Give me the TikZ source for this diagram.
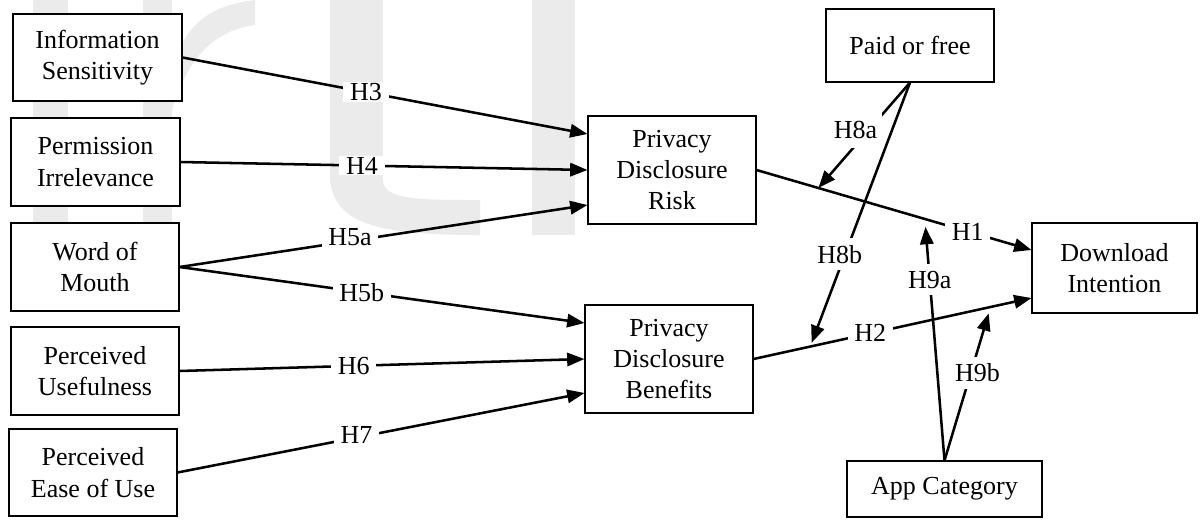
\documentclass[tikz,border=0pt]{standalone}
\usepackage{fontspec}
\setmainfont{Liberation Serif}
\usetikzlibrary{arrows.meta,calc}
\begin{document}
\begin{tikzpicture}[x=0.75pt,y=-0.75pt,
  txt/.style={font=\fontsize{19.5}{23.5}\selectfont},
  box/.style={draw, fill=white, line width=0.8pt, inner sep=0pt, align=center, txt},
  conn/.style={line width=1.9pt, -{Triangle[length=13pt,width=10pt]}},
  lab/.style={fill=white, inner xsep=5pt, inner ysep=1pt, txt},
  vlab/.style={fill=white, inner xsep=2pt, inner ysep=5pt, txt},
  wm/.style={fill=black!8}]
\useasboundingbox (0,0) rectangle (1200,519);
% faint watermark
\fill[wm] (33,0) rectangle (68,235);
\fill[wm] (143,0) rectangle (172,235);
\fill[wm] (172,70) .. controls (185,20) and (215,5) .. (255,0) -- (255,25) .. controls (220,30) and (190,50) .. (172,110) -- cycle;
\fill[wm] (330,0) rectangle (383,180);
\fill[wm] (330,180) .. controls (335,225) and (380,235) .. (480,235) -- (480,200) .. controls (420,200) and (383,200) .. (383,180) -- cycle;
\fill[wm] (532,0) rectangle (575,235);
% boxes
\node[box, minimum width=169*0.75pt, minimum height=87*0.75pt] (info) at (97.5,57.5) {Information\\Sensitivity};
\node[box, minimum width=169*0.75pt, minimum height=88*0.75pt] (perm) at (95.5,162) {Permission\\Irrelevance};
\node[box, minimum width=168*0.75pt, minimum height=88*0.75pt] (wom) at (95,267) {Word of\\Mouth};
\node[box, minimum width=168*0.75pt, minimum height=88*0.75pt] (pu) at (95,371) {Perceived\\Usefulness};
\node[box, minimum width=168*0.75pt, minimum height=87*0.75pt] (peou) at (93,472.5) {Perceived\\Ease of Use};
\node[box, minimum width=168*0.75pt, minimum height=108*0.75pt] (risk) at (672,170) {Privacy\\Disclosure\\Risk};
\node[box, minimum width=168*0.75pt, minimum height=108*0.75pt] (ben) at (669,359) {Privacy\\Disclosure\\Benefits};
\node[box, minimum width=168*0.75pt, minimum height=73*0.75pt] (paid) at (910,45.5) {Paid or free};
\node[box, minimum width=165*0.75pt, minimum height=90*0.75pt] (dl) at (1114.5,268) {Download\\Intention};
\node[box, minimum width=195*0.75pt, minimum height=56*0.75pt] (app) at (944.5,489) {App Category};
% end points
\coordinate (r1) at ($(risk.west)+(0,-36)$);
\coordinate (r3) at ($(risk.west)+(0,35)$);
\coordinate (b1) at ($(ben.west)+(0,-36)$);
\coordinate (b3) at ($(ben.west)+(0,34)$);
\coordinate (d1) at ($(dl.west)+(0,-18)$);
\coordinate (d2) at ($(dl.west)+(0,30)$);
\path (risk.east) -- (d1) coordinate[pos=0.225] (m8a) coordinate[pos=0.612] (m9a);
\path (ben.east) -- (d2) coordinate[pos=0.204] (m8b) coordinate[pos=0.853] (m9b);
% connectors
\draw[conn] (info.east) -- (r1) node[lab, pos=0.453] {H3};
\draw[conn] (perm.east) -- (risk.west) node[lab, pos=0.446] {H4};
\draw[conn] (wom.east) -- (r3) node[lab, pos=0.418, yshift=3pt] {H5a};
\draw[conn] (wom.east) -- (b1) node[lab, pos=0.45] {H5b};
\draw[conn] (pu.east) -- (ben.west) node[lab, pos=0.43] {H6};
\draw[conn] (peou.east) -- (b3) node[lab, pos=0.44, yshift=2pt] {H7};
\draw[conn] (risk.east) -- (d1) node[lab, pos=0.768] {H1};
\draw[conn] (ben.east) -- (d2) node[lab, pos=0.42] {H2};
\draw[conn] (paid.south) -- (m8a) node[vlab, pos=0.45, xshift=-10pt, inner xsep=4pt, inner ysep=7pt] {H8a};
\draw[conn, shorten >=3pt] (paid.south) -- (m8b) node[vlab, pos=0.65, xshift=-4pt] {H8b};
\draw[conn, shorten >=6pt] (app.north) -- (m9a) node[vlab, pos=0.748] {H9a};
\draw[conn, shorten >=5pt] (app.north) -- (m9b) node[vlab, pos=0.57, xshift=5pt] {H9b};
\end{tikzpicture}
\end{document}
